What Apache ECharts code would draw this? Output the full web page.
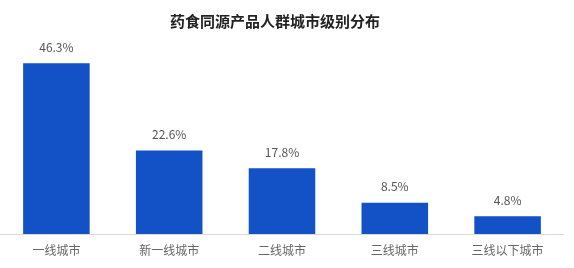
<!DOCTYPE html>
<html>
<head>
<meta charset="utf-8">
<script src="https://cdn.jsdelivr.net/npm/echarts@6/dist/echarts.min.js"></script>
<style>
html, body { margin: 0; padding: 0; background: #fff; }
#main { width: 574px; height: 268px; }
</style>
</head>
<body>
<div id="main"></div>
<script>
var titleText = '药食同源产品人群城市级别分布';
var categories = ['一线城市', '新一线城市', '二线城市', '三线城市', '三线以下城市'];
var shares = [46.3, 22.6, 17.8, 8.5, 4.8];

var chart = echarts.init(document.getElementById('main'));
chart.setOption({
    animation: false,
    title: {
        text: titleText,
        left: 165,
        top: 9,
        textStyle: {
            fontSize: 15,
            fontWeight: 'bold',
            color: '#222',
            fontFamily: 'Noto Sans CJK SC'
        }
    },
    grid: { left: -6, right: 10, top: 49.5, bottom: 34, containLabel: false },
    xAxis: {
        type: 'category',
        data: categories,
        axisLine: { lineStyle: { color: '#d9d9d9' } },
        axisTick: { show: false },
        axisLabel: { color: '#666', fontSize: 12, margin: 10, fontFamily: 'Noto Sans CJK SC' }
    },
    yAxis: {
        type: 'value',
        min: 0,
        max: 50,
        show: false,
        splitLine: { show: false }
    },
    series: [{
        type: 'bar',
        data: shares,
        barWidth: '59%',
        itemStyle: { color: '#1351c6' },
        label: {
            show: true,
            position: 'top',
            distance: 10,
            color: '#555',
            fontSize: 12,
            fontFamily: 'Noto Sans CJK SC',
            formatter: function(p) { return p.value.toFixed(1) + '%'; }
        }
    }]
});
</script>
</body>
</html>
